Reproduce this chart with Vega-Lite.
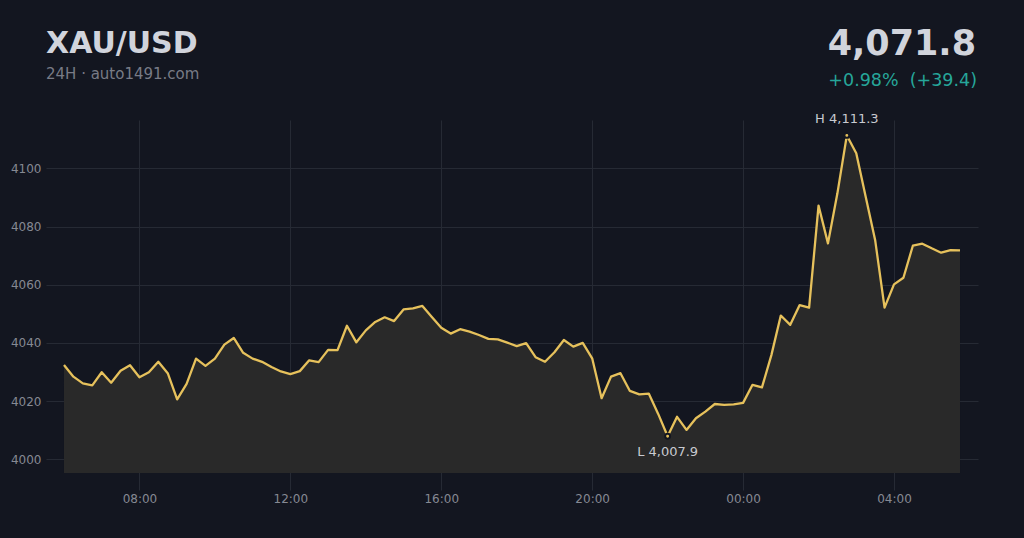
{
  "$schema": "https://vega.github.io/schema/vega-lite/v6.json",
  "width": 932,
  "height": 370,
  "autosize": {"type": "none"},
  "padding": {"left": 46, "top": 120, "right": 46, "bottom": 48},
  "background": "#131620",
  "config": {
    "view": {"stroke": null},
    "font": "DejaVu Sans",
    "axis": {
      "domain": false,
      "ticks": false,
      "gridColor": "#262a34",
      "gridWidth": 1,
      "labelColor": "#868993",
      "labelFont": "DejaVu Sans",
      "labelFontSize": 12,
      "title": null
    }
  },
  "data": {
    "values": [
      {"t": "2025-10-20T06:00:00Z", "v": 4032.4},
      {"t": "2025-10-20T06:15:00Z", "v": 4028.4},
      {"t": "2025-10-20T06:30:00Z", "v": 4026.1},
      {"t": "2025-10-20T06:45:00Z", "v": 4025.4},
      {"t": "2025-10-20T07:00:00Z", "v": 4029.9},
      {"t": "2025-10-20T07:15:00Z", "v": 4026.3},
      {"t": "2025-10-20T07:30:00Z", "v": 4030.4},
      {"t": "2025-10-20T07:45:00Z", "v": 4032.3},
      {"t": "2025-10-20T08:00:00Z", "v": 4028.2},
      {"t": "2025-10-20T08:15:00Z", "v": 4029.9},
      {"t": "2025-10-20T08:30:00Z", "v": 4033.5},
      {"t": "2025-10-20T08:45:00Z", "v": 4029.6},
      {"t": "2025-10-20T09:00:00Z", "v": 4020.6},
      {"t": "2025-10-20T09:15:00Z", "v": 4025.9},
      {"t": "2025-10-20T09:30:00Z", "v": 4034.6},
      {"t": "2025-10-20T09:45:00Z", "v": 4032.1},
      {"t": "2025-10-20T10:00:00Z", "v": 4034.6},
      {"t": "2025-10-20T10:15:00Z", "v": 4039.4},
      {"t": "2025-10-20T10:30:00Z", "v": 4041.7},
      {"t": "2025-10-20T10:45:00Z", "v": 4036.6},
      {"t": "2025-10-20T11:00:00Z", "v": 4034.6},
      {"t": "2025-10-20T11:15:00Z", "v": 4033.5},
      {"t": "2025-10-20T11:30:00Z", "v": 4031.7},
      {"t": "2025-10-20T11:45:00Z", "v": 4030.2},
      {"t": "2025-10-20T12:00:00Z", "v": 4029.3},
      {"t": "2025-10-20T12:15:00Z", "v": 4030.3},
      {"t": "2025-10-20T12:30:00Z", "v": 4034.0},
      {"t": "2025-10-20T12:45:00Z", "v": 4033.4},
      {"t": "2025-10-20T13:00:00Z", "v": 4037.6},
      {"t": "2025-10-20T13:15:00Z", "v": 4037.5},
      {"t": "2025-10-20T13:30:00Z", "v": 4045.9},
      {"t": "2025-10-20T13:45:00Z", "v": 4040.2},
      {"t": "2025-10-20T14:00:00Z", "v": 4044.3},
      {"t": "2025-10-20T14:15:00Z", "v": 4047.2},
      {"t": "2025-10-20T14:30:00Z", "v": 4048.8},
      {"t": "2025-10-20T14:45:00Z", "v": 4047.5},
      {"t": "2025-10-20T15:00:00Z", "v": 4051.5},
      {"t": "2025-10-20T15:15:00Z", "v": 4051.9},
      {"t": "2025-10-20T15:30:00Z", "v": 4052.7},
      {"t": "2025-10-20T15:45:00Z", "v": 4048.9},
      {"t": "2025-10-20T16:00:00Z", "v": 4045.2},
      {"t": "2025-10-20T16:15:00Z", "v": 4043.2},
      {"t": "2025-10-20T16:30:00Z", "v": 4044.7},
      {"t": "2025-10-20T16:45:00Z", "v": 4043.9},
      {"t": "2025-10-20T17:00:00Z", "v": 4042.7},
      {"t": "2025-10-20T17:15:00Z", "v": 4041.4},
      {"t": "2025-10-20T17:30:00Z", "v": 4041.2},
      {"t": "2025-10-20T17:45:00Z", "v": 4040.1},
      {"t": "2025-10-20T18:00:00Z", "v": 4038.9},
      {"t": "2025-10-20T18:15:00Z", "v": 4039.9},
      {"t": "2025-10-20T18:30:00Z", "v": 4035.1},
      {"t": "2025-10-20T18:45:00Z", "v": 4033.5},
      {"t": "2025-10-20T19:00:00Z", "v": 4036.8},
      {"t": "2025-10-20T19:15:00Z", "v": 4041.0},
      {"t": "2025-10-20T19:30:00Z", "v": 4038.7},
      {"t": "2025-10-20T19:45:00Z", "v": 4040.0},
      {"t": "2025-10-20T20:00:00Z", "v": 4034.7},
      {"t": "2025-10-20T20:15:00Z", "v": 4021.0},
      {"t": "2025-10-20T20:30:00Z", "v": 4028.4},
      {"t": "2025-10-20T20:45:00Z", "v": 4029.6},
      {"t": "2025-10-20T21:00:00Z", "v": 4023.5},
      {"t": "2025-10-20T21:15:00Z", "v": 4022.3},
      {"t": "2025-10-20T21:30:00Z", "v": 4022.6},
      {"t": "2025-10-20T21:45:00Z", "v": 4015.6},
      {"t": "2025-10-20T22:00:00Z", "v": 4007.9},
      {"t": "2025-10-20T22:15:00Z", "v": 4014.6},
      {"t": "2025-10-20T22:30:00Z", "v": 4010.1},
      {"t": "2025-10-20T22:45:00Z", "v": 4014.1},
      {"t": "2025-10-20T23:00:00Z", "v": 4016.4},
      {"t": "2025-10-20T23:15:00Z", "v": 4019.0},
      {"t": "2025-10-20T23:30:00Z", "v": 4018.7},
      {"t": "2025-10-20T23:45:00Z", "v": 4018.9},
      {"t": "2025-10-21T00:00:00Z", "v": 4019.4},
      {"t": "2025-10-21T00:15:00Z", "v": 4025.6},
      {"t": "2025-10-21T00:30:00Z", "v": 4024.7},
      {"t": "2025-10-21T00:45:00Z", "v": 4035.8},
      {"t": "2025-10-21T01:00:00Z", "v": 4049.4},
      {"t": "2025-10-21T01:15:00Z", "v": 4046.2},
      {"t": "2025-10-21T01:30:00Z", "v": 4053.0},
      {"t": "2025-10-21T01:45:00Z", "v": 4052.1},
      {"t": "2025-10-21T02:00:00Z", "v": 4087.2},
      {"t": "2025-10-21T02:15:00Z", "v": 4074.2},
      {"t": "2025-10-21T02:30:00Z", "v": 4091.4},
      {"t": "2025-10-21T02:45:00Z", "v": 4111.3},
      {"t": "2025-10-21T03:00:00Z", "v": 4105.2},
      {"t": "2025-10-21T03:15:00Z", "v": 4090.2},
      {"t": "2025-10-21T03:30:00Z", "v": 4075.4},
      {"t": "2025-10-21T03:45:00Z", "v": 4052.1},
      {"t": "2025-10-21T04:00:00Z", "v": 4060.1},
      {"t": "2025-10-21T04:15:00Z", "v": 4062.4},
      {"t": "2025-10-21T04:30:00Z", "v": 4073.4},
      {"t": "2025-10-21T04:45:00Z", "v": 4074.1},
      {"t": "2025-10-21T05:00:00Z", "v": 4072.5},
      {"t": "2025-10-21T05:15:00Z", "v": 4071.0},
      {"t": "2025-10-21T05:30:00Z", "v": 4071.9},
      {"t": "2025-10-21T05:45:00Z", "v": 4071.8}
    ]
  },
  "encoding": {
    "x": {
      "field": "t",
      "type": "temporal",
      "scale": {
        "type": "utc",
        "domain": [1760938284000, 1761027216000]
      },
      "axis": {
        "format": "%H:%M",
        "values": [1760947200000, 1760961600000, 1760976000000, 1760990400000, 1761004800000, 1761019200000],
        "labelPadding": 3,
        "grid": true
      }
    },
    "y": {
      "field": "v",
      "type": "quantitative",
      "scale": {"domain": [3989.45, 4116.6], "nice": false, "zero": false},
      "axis": {
        "values": [4000, 4020, 4040, 4060, 4080, 4100],
        "format": "d",
        "labelPadding": 5,
        "grid": true
      }
    }
  },
  "layer": [
    {
      "mark": {"type": "area", "color": "#292929", "opacity": 1},
      "encoding": {"y2": {"datum": 3995.3}}
    },
    {
      "mark": {"type": "line", "color": "#e6c15c", "strokeWidth": 2.3, "strokeJoin": "round"}
    },
    {
      "transform": [{"filter": "datum.v == 4111.3 || datum.v == 4007.9"}],
      "mark": {"type": "point", "filled": true, "size": 24, "color": "#e6c15c", "stroke": "#131620", "strokeWidth": 2, "opacity": 1}
    },
    {
      "transform": [
        {"filter": "datum.v == 4111.3"},
        {"calculate": "'H ' + format(datum.v, ',.1f')", "as": "label"}
      ],
      "mark": {"type": "text", "baseline": "alphabetic", "dy": -12, "fontSize": 13, "color": "#c8cad0", "font": "DejaVu Sans"},
      "encoding": {"text": {"field": "label"}}
    },
    {
      "transform": [
        {"filter": "datum.v == 4007.9"},
        {"calculate": "'L ' + format(datum.v, ',.1f')", "as": "label"}
      ],
      "mark": {"type": "text", "baseline": "top", "dy": 10, "fontSize": 13, "color": "#c8cad0", "font": "DejaVu Sans"},
      "encoding": {"text": {"field": "label"}}
    },
    {
      "data": {"values": [{"label": "XAU/USD"}]},
      "mark": {"type": "text", "align": "left", "baseline": "alphabetic", "fontSize": 30, "fontWeight": "bold", "color": "#d1d4dc", "font": "DejaVu Sans"},
      "encoding": {
        "x": {"value": 0},
        "y": {"value": -67},
        "text": {"field": "label"}
      }
    },
    {
      "data": {"values": [{"label": "24H · auto1491.com"}]},
      "mark": {"type": "text", "align": "left", "baseline": "alphabetic", "fontSize": 15, "color": "#787b86", "font": "DejaVu Sans"},
      "encoding": {
        "x": {"value": 0},
        "y": {"value": -41},
        "text": {"field": "label"}
      }
    },
    {
      "data": {"values": [{"label": "4,071.8"}]},
      "mark": {"type": "text", "align": "right", "baseline": "alphabetic", "dx": -2, "fontSize": 35, "fontWeight": "bold", "color": "#d1d4dc", "font": "DejaVu Sans"},
      "encoding": {
        "x": {"value": "width"},
        "y": {"value": -65},
        "text": {"field": "label"}
      }
    },
    {
      "data": {"values": [{"label": "+0.98%\u00a0\u00a0(+39.4)"}]},
      "mark": {"type": "text", "align": "right", "baseline": "alphabetic", "dx": -1, "fontSize": 17.5, "color": "#26a69a", "font": "DejaVu Sans"},
      "encoding": {
        "x": {"value": "width"},
        "y": {"value": -34},
        "text": {"field": "label"}
      }
    }
  ]
}
